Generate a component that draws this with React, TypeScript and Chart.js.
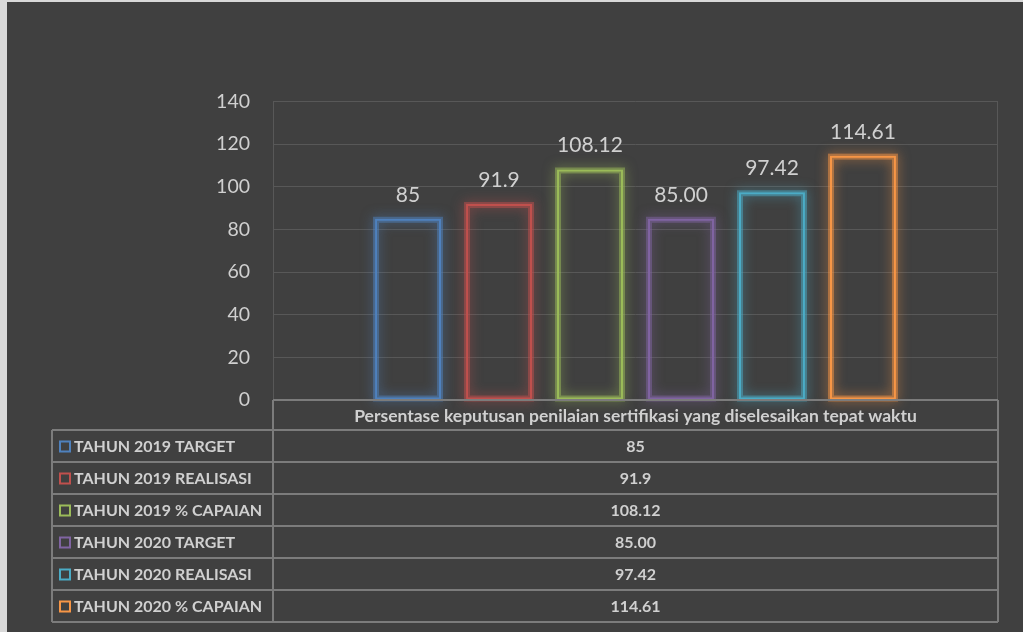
import React, { useEffect, useRef } from "react";
import { Chart, registerables } from "chart.js";

Chart.register(...registerables);

const categories = ["Persentase keputusan penilaian sertifikasi yang diselesaikan tepat waktu"];
const seriesNames = [
  "TAHUN 2019 TARGET",
  "TAHUN 2019 REALISASI",
  "TAHUN 2019 % CAPAIAN",
  "TAHUN 2020 TARGET",
  "TAHUN 2020 REALISASI",
  "TAHUN 2020 % CAPAIAN",
];
const seriesValues = [85, 91.9, 108.12, 85.0, 97.42, 114.61];
const valueLabels = ["85", "91.9", "108.12", "85.00", "97.42", "114.61"];
const seriesColors = ["#4F81BD", "#C0504D", "#9BBB59", "#8064A2", "#4BACC6", "#F79646"];
const yMin = 0;
const yMax = 140;
const yStep = 20;

const FONT = "Lato, 'Open Sans', sans-serif";
const TEXT = "#d0d0d0";
const TABLE_LINE = "#7c7c7c";
const GRID = "#585858";

function hexA(hex: string, a: number) {
  const n = parseInt(hex.slice(1), 16);
  return `rgba(${(n >> 16) & 255},${(n >> 8) & 255},${n & 255},${a})`;
}

const bgPlugin = {
  id: "bg",
  beforeDraw(chart: any) {
    const ctx = chart.ctx;
    ctx.save();
    ctx.fillStyle = "#d9d9d9";
    ctx.fillRect(0, 0, chart.width, chart.height);
    ctx.fillStyle = "#404040";
    ctx.fillRect(7, 2, chart.width - 7, chart.height - 2);
    ctx.restore();
  },
};

const glowPlugin = {
  id: "glow",
  beforeDatasetDraw(chart: any, args: any) {
    const ctx = chart.ctx;
    const color = seriesColors[args.index];
    args.meta.data.forEach((el: any) => {
      const { x, y, base, width } = el.getProps(["x", "y", "base", "width"], true);
      ctx.save();
      ctx.shadowColor = hexA(color, 1);
      ctx.shadowBlur = 12;
      ctx.strokeStyle = hexA(color, 0.5);
      ctx.lineWidth = 6;
      ctx.strokeRect(x - width / 2 + 1, y + 1, width - 2, base - y - 2);
      ctx.restore();
    });
  },
};

const labelPlugin = {
  id: "labels",
  afterDatasetsDraw(chart: any) {
    const ctx = chart.ctx;
    ctx.save();
    ctx.fillStyle = TEXT;
    ctx.font = `21px ${FONT}`;
    ctx.textAlign = "center";
    ctx.textBaseline = "alphabetic";
    chart.data.datasets.forEach((ds: any, i: number) => {
      const meta = chart.getDatasetMeta(i);
      meta.data.forEach((el: any) => {
        ctx.fillText(valueLabels[i], el.x, el.y - 17);
      });
    });
    ctx.restore();
  },
};

const tablePlugin = {
  id: "table",
  afterDraw(chart: any) {
    const ctx = chart.ctx;
    const { left, right, top, bottom } = chart.chartArea;
    const headerH = 30;
    const rowH = 32;
    const tableLeft = 52;
    const n = seriesNames.length;
    const firstRow = bottom + headerH;
    const tableBottom = firstRow + rowH * n;
    ctx.save();
    ctx.strokeStyle = GRID;
    ctx.lineWidth = 1;
    ctx.beginPath();
    ctx.moveTo(left + 0.5, top);
    ctx.lineTo(left + 0.5, bottom);
    ctx.moveTo(right - 0.5, top);
    ctx.lineTo(right - 0.5, bottom);
    ctx.stroke();

    ctx.strokeStyle = TABLE_LINE;
    ctx.lineWidth = 2;
    ctx.beginPath();
    ctx.moveTo(left, bottom);
    ctx.lineTo(right, bottom);
    for (let r = 0; r <= n; r++) {
      const yy = firstRow + r * rowH;
      ctx.moveTo(tableLeft, yy);
      ctx.lineTo(right, yy);
    }
    ctx.moveTo(left, bottom);
    ctx.lineTo(left, tableBottom);
    ctx.moveTo(right, bottom);
    ctx.lineTo(right, tableBottom);
    ctx.moveTo(tableLeft, firstRow);
    ctx.lineTo(tableLeft, tableBottom);
    ctx.stroke();

    ctx.fillStyle = TEXT;
    ctx.textBaseline = "middle";
    ctx.textAlign = "center";
    const cx = (left + right) / 2;
    ctx.font = `bold 17.5px ${FONT}`;
    ctx.fillText(categories[0], cx, bottom + headerH / 2 + 1);
    for (let r = 0; r < n; r++) {
      const cy = firstRow + r * rowH + rowH / 2 + 1;
      ctx.textAlign = "center";
      ctx.fillStyle = TEXT;
      ctx.font = `bold 16px ${FONT}`;
      ctx.fillText(valueLabels[r], cx, cy);
      ctx.strokeStyle = seriesColors[r];
      ctx.lineWidth = 2;
      ctx.strokeRect(60, cy - 5.5, 10, 10);
      ctx.textAlign = "left";
      ctx.fillText(seriesNames[r], 74, cy);
    }
    ctx.restore();
  },
};

export default function App() {
  const ref = useRef<HTMLCanvasElement>(null);
  useEffect(() => {
    if (!ref.current) return;
    const chart = new Chart(ref.current, {
      type: "bar",
      data: {
        labels: categories,
        datasets: seriesNames.map((name, i) => ({
          label: name,
          data: [seriesValues[i]],
          backgroundColor: "rgba(0,0,0,0)",
          borderColor: seriesColors[i],
          borderWidth: 2,
          borderSkipped: false,
          categoryPercentage: 0.753,
          barPercentage: 0.725,
        })),
      },
      options: {
        responsive: false,
        animation: false,
        devicePixelRatio: 1,
        layout: { padding: { left: 0, right: 25, top: 101.5, bottom: 232 } },
        plugins: {
          legend: { display: false },
          tooltip: { enabled: false },
          title: { display: false },
        },
        scales: {
          x: { display: false },
          y: {
            min: yMin,
            max: yMax,
            afterFit: (scale: any) => {
              scale.width = 273;
            },
            ticks: {
              stepSize: yStep,
              color: TEXT,
              padding: 23,
              font: { family: FONT, size: 19.5 },
            },
            grid: { color: GRID, lineWidth: 1, drawTicks: false },
            border: { display: false },
          },
        },
      },
      plugins: [bgPlugin, glowPlugin, labelPlugin, tablePlugin],
    });
    return () => chart.destroy();
  }, []);
  return (
    <div style={{ position: "fixed", left: 0, top: 0, width: 1023, height: 632 }}>
      <canvas ref={ref} width={1023} height={632} style={{ display: "block" }} />
    </div>
  );
}
